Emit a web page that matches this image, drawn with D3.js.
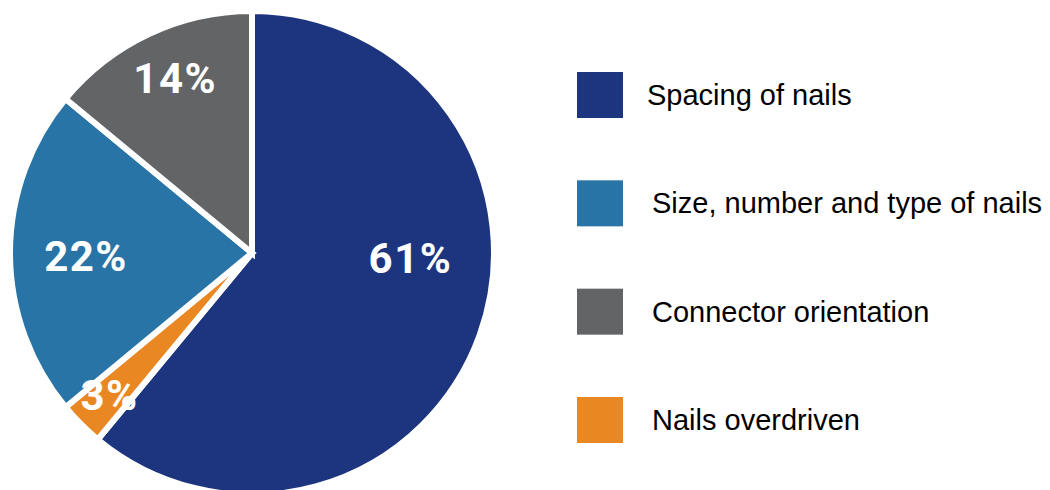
<!DOCTYPE html>
<html>
<head>
<meta charset="utf-8">
<script src="https://cdn.jsdelivr.net/npm/d3@7"></script>
<style>
  html, body { margin: 0; padding: 0; background: #fff; }
  svg { display: block; }
</style>
</head>
<body>
<svg id="chart" width="1050" height="490"></svg>
<script>
// Causes of connector failures, share of cases
const categories = ["Spacing of nails", "Nails overdriven", "Size, number and type of nails", "Connector orientation"];
const values = [61, 3, 22, 14];
const colors = ["#1d357e", "#e98723", "#2974a6", "#636466"];
// Legend order differs from slice order
const legendOrder = ["Spacing of nails", "Size, number and type of nails", "Connector orientation", "Nails overdriven"];
// Label placement: radius as fraction of pie radius, optional angle override (degrees)
const labelRadius = [0.655, 0.833, 0.686, 0.79];
const labelAngle = [91.8, null, 268.8, 336.3];

const svg = d3.select("#chart");
const cx = 252, cy = 253, R = 242;

const pie = d3.pie().sort(null).value(d => d.value);
const data = categories.map((c, i) => ({ name: c, value: values[i], color: colors[i], i }));
const arcs = pie(data);

const arc = d3.arc().innerRadius(0).outerRadius(R);

const g = svg.append("g").attr("transform", `translate(${cx},${cy})`);

g.selectAll("path.slice")
  .data(arcs)
  .join("path")
  .attr("class", "slice")
  .attr("d", arc)
  .attr("fill", d => d.data.color)
  .attr("stroke", "#fff")
  .attr("stroke-width", 6)
  .attr("stroke-linejoin", "miter");

g.selectAll("text.pct")
  .data(arcs)
  .join("text")
  .attr("class", "pct")
  .attr("transform", d => {
    const i = d.data.i;
    const a = labelAngle[i] != null ? labelAngle[i] * Math.PI / 180 : (d.startAngle + d.endAngle) / 2;
    const r = R * labelRadius[i];
    return `translate(${r * Math.sin(a)},${-r * Math.cos(a)})`;
  })
  .attr("text-anchor", "middle")
  .attr("dy", "0.355em")
  .attr("fill", "#fff")
  .style("font-family", "Roboto, 'Open Sans', sans-serif")
  .style("font-weight", 700)
  .style("font-size", "42px")
  .style("letter-spacing", "1.5px")
  .text(d => d.data.value + "%");

// Legend
const legendY = d3.scalePoint().domain(legendOrder).range([95, 420]);
const color = d3.scaleOrdinal().domain(categories).range(colors);

const lg = svg.append("g");
const items = lg.selectAll("g.item")
  .data(legendOrder)
  .join("g")
  .attr("class", "item")
  .attr("transform", d => `translate(577,${legendY(d)})`);

items.append("rect")
  .attr("x", 0)
  .attr("y", -23)
  .attr("width", 46)
  .attr("height", 46)
  .attr("fill", d => color(d));

items.append("text")
  .attr("x", (d, i) => i === 0 ? 70 : 75)
  .attr("y", 0)
  .attr("dy", "0.35em")
  .attr("fill", "#000")
  .style("font-family", "'Liberation Sans', Arial, sans-serif")
  .style("font-size", "29px")
  .text(d => d);
</script>
</body>
</html>
